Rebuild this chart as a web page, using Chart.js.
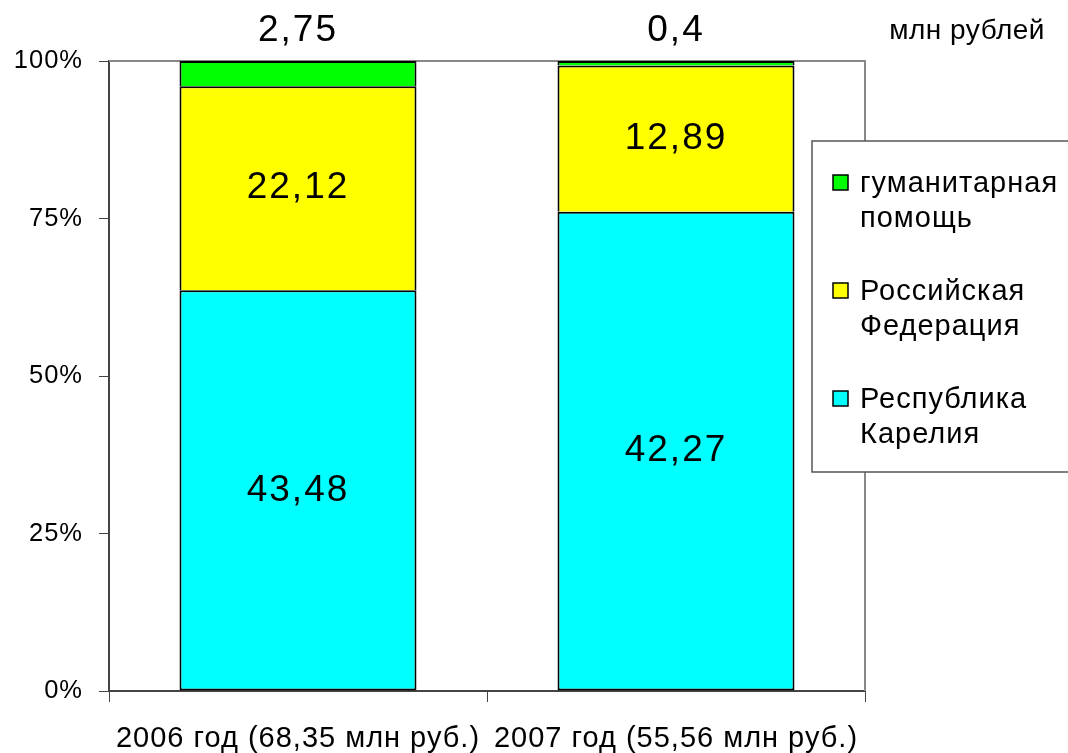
<!DOCTYPE html>
<html>
<head>
<meta charset="utf-8">
<script src="https://cdn.jsdelivr.net/npm/chart.js@4"></script>
<style>
  html, body { margin: 0; padding: 0; background: #fff; }
  #wrap { width: 1068px; height: 753px; }
</style>
</head>
<body>
<div id="wrap"><canvas id="chart" width="1068" height="753"></canvas></div>
<script>
const categories = ['2006 год (68,35 млн руб.)', '2007 год (55,56 млн руб.)'];
const karelia = [43.48, 42.27];
const russia = [22.12, 12.89];
const aid = [2.75, 0.4];
const yTicks = [0, 25, 50, 75, 100];
const seriesNames = ['Республика Карелия', 'Российская Федерация', 'гуманитарная помощь'];
const legendLines = [['гуманитарная', 'помощь'], ['Российская', 'Федерация'], ['Республика', 'Карелия']];

const totals = categories.map((c, i) => karelia[i] + russia[i] + aid[i]);
const toPct = arr => arr.map((v, i) => v / totals[i] * 100);
const fmt = v => String(v).replace('.', ',');

const FONT = 'Arial, "Liberation Sans", sans-serif';

// the original text is a bit wider spaced than Liberation Sans
const spacingPlugin = {
  id: 'spacing',
  beforeDraw(chart) { chart.ctx.letterSpacing = '1px'; }
};

// frame: grey top and right edge of the plot
const framePlugin = {
  id: 'frame',
  beforeDatasetsDraw(chart) {
    const { ctx, chartArea: a } = chart;
    ctx.save();
    ctx.strokeStyle = '#888';
    ctx.lineWidth = 2;
    ctx.beginPath();
    ctx.moveTo(a.left, a.top);
    ctx.lineTo(a.right, a.top);
    ctx.lineTo(a.right, a.bottom);
    ctx.stroke();
    ctx.restore();
  }
};

// value labels inside bars, top series above the plot
const valuePlugin = {
  id: 'values',
  afterDatasetsDraw(chart) {
    const { ctx } = chart;
    ctx.save();
    ctx.fillStyle = '#000';
    ctx.textAlign = 'center';
    ctx.textBaseline = 'middle';
    ctx.letterSpacing = '2px';
    ctx.font = '37px ' + FONT;
    chart.data.datasets.forEach((ds, di) => {
      chart.getDatasetMeta(di).data.forEach((el, i) => {
        const raw = ds.raw[i];
        if (di === 2) {
          ctx.fillText(fmt(raw), el.x, 31);
        } else {
          ctx.fillText(fmt(raw), el.x, (el.y + el.base) / 2);
        }
      });
    });
    ctx.letterSpacing = '0.5px';
    ctx.font = '28px ' + FONT;
    ctx.textAlign = 'right';
    ctx.fillText('млн рублей', 1045, 31);
    ctx.restore();
  }
};

// legend box with two-line labels
const legendPlugin = {
  id: 'boxLegend',
  afterDraw(chart) {
    const { ctx } = chart;
    const x = 812, y = 141, w = 270, h = 331;
    ctx.save();
    ctx.fillStyle = '#fff';
    ctx.fillRect(x, y, w, h);
    ctx.strokeStyle = '#555';
    ctx.lineWidth = 1.5;
    ctx.strokeRect(x, y, w, h);
    ctx.letterSpacing = '1px';
    ctx.font = '29px ' + FONT;
    ctx.textBaseline = 'middle';
    ctx.textAlign = 'left';
    const order = [2, 1, 0];
    order.forEach((di, k) => {
      const ds = chart.data.datasets[di];
      const top = 183 + k * 108;
      ctx.fillStyle = ds.backgroundColor;
      ctx.fillRect(833, top - 8, 15, 15);
      ctx.strokeStyle = '#000';
      ctx.lineWidth = 1.5;
      ctx.strokeRect(833, top - 8, 15, 15);
      ctx.fillStyle = '#000';
      legendLines[k].forEach((t, j) => ctx.fillText(t, 860, top + 1 + j * 35));
    });
    ctx.restore();
  }
};

const colors = ['#00FFFF', '#FFFF00', '#00FF00'];
const raws = [karelia, russia, aid];

new Chart(document.getElementById('chart'), {
  type: 'bar',
  data: {
    labels: categories,
    datasets: raws.map((r, i) => ({
      label: seriesNames[i],
      raw: r,
      data: toPct(r),
      backgroundColor: colors[i],
      borderColor: '#000',
      borderWidth: 2,
      borderSkipped: i === 0 ? false : 'start',
      inflateAmount: 0,
      categoryPercentage: 1,
      barPercentage: 0.627
    }))
  },
  options: {
    responsive: false,
    animation: false,
    layout: { padding: { top: 61, right: 203, left: 0, bottom: 0 } },
    plugins: { legend: { display: false }, tooltip: { enabled: false } },
    scales: {
      x: {
        stacked: true,
        grid: { offset: true, drawOnChartArea: false, tickLength: 11, color: '#444' },
        border: { color: '#444', width: 2 },
        ticks: { color: '#000', font: { size: 29, family: FONT }, padding: 20, maxRotation: 0 },
        afterFit(s) { s.height = 62; }
      },
      y: {
        stacked: true,
        min: 0,
        max: 100,
        afterBuildTicks(s) { s.ticks = yTicks.map(v => ({ value: v })); },
        grid: { drawOnChartArea: false, tickLength: 10, color: '#444' },
        border: { color: '#444', width: 2 },
        ticks: { color: '#000', font: { size: 25.5, family: FONT }, padding: 16, callback: v => v + '%' },
        afterFit(s) { s.width = 109; }
      }
    }
  },
  plugins: [spacingPlugin, framePlugin, valuePlugin, legendPlugin]
});
</script>
</body>
</html>
